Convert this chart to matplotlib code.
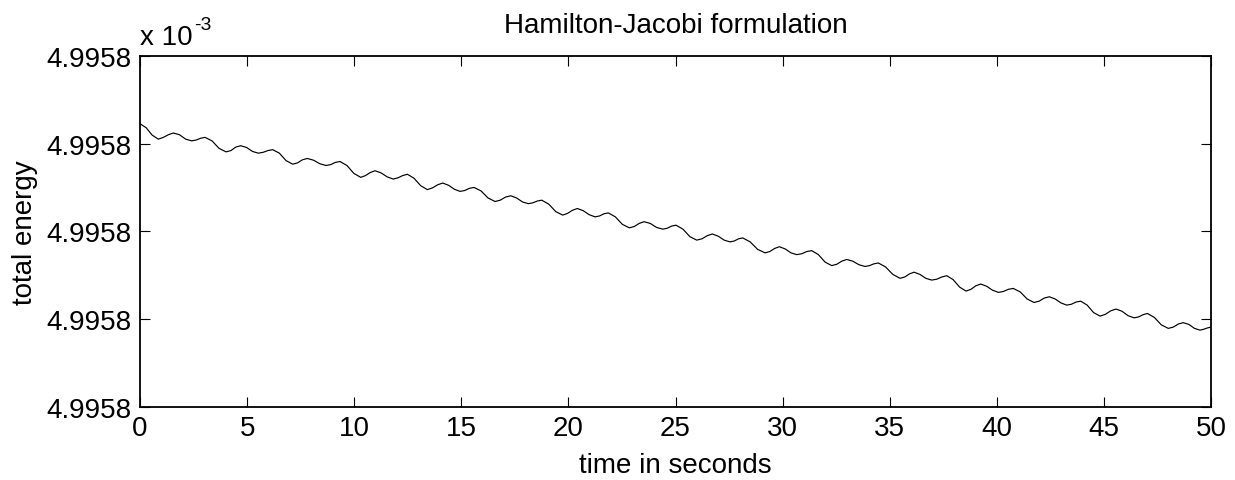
import numpy as np
import matplotlib.pyplot as plt

plt.rcParams['font.family'] = ['Liberation Sans', 'DejaVu Sans']

# time (s) and total energy (J): peaks, troughs and the shoulders between them
time_s = [0.000, 0.285, 0.569, 0.854, 1.088, 1.321, 1.555, 1.841, 2.128, 2.414,
          2.621, 2.828, 3.035, 3.362, 3.688, 4.015, 4.244, 4.472, 4.701, 4.975,
          5.249, 5.523, 5.747, 5.971, 6.195, 6.506, 6.818, 7.129, 7.356, 7.583,
          7.810, 8.101, 8.392, 8.683, 8.901, 9.119, 9.337, 9.659, 9.981, 10.303,
          10.526, 10.748, 10.971, 11.256, 11.540, 11.825, 12.043, 12.261, 12.479, 12.790,
          13.102, 13.413, 13.653, 13.892, 14.132, 14.401, 14.670, 14.939, 15.157, 15.375,
          15.593, 15.920, 16.246, 16.573, 16.817, 17.062, 17.306, 17.580, 17.854, 18.128,
          18.336, 18.545, 18.753, 19.080, 19.407, 19.734, 19.961, 20.188, 20.415, 20.691,
          20.966, 21.242, 21.449, 21.656, 21.863, 22.190, 22.516, 22.843, 23.072, 23.300,
          23.529, 23.820, 24.111, 24.402, 24.609, 24.816, 25.023, 25.345, 25.668, 25.990,
          26.233, 26.475, 26.718, 26.993, 27.269, 27.544, 27.742, 27.939, 28.137, 28.484,
          28.831, 29.178, 29.401, 29.623, 29.846, 30.117, 30.387, 30.658, 30.891, 31.125,
          31.358, 31.669, 31.981, 32.292, 32.525, 32.759, 32.992, 33.277, 33.562, 33.847,
          34.054, 34.260, 34.467, 34.805, 35.143, 35.481, 35.699, 35.916, 36.134, 36.409,
          36.685, 36.960, 37.194, 37.427, 37.661, 37.961, 38.262, 38.562, 38.791, 39.019,
          39.248, 39.522, 39.796, 40.070, 40.303, 40.537, 40.770, 41.092, 41.414, 41.736,
          41.974, 42.213, 42.451, 42.722, 42.992, 43.263, 43.481, 43.698, 43.916, 44.217,
          44.517, 44.818, 45.067, 45.316, 45.565, 45.845, 46.125, 46.405, 46.612, 46.819,
          47.026, 47.353, 47.679, 48.006, 48.239, 48.473, 48.706, 48.966, 49.226, 49.486,
          49.657, 49.829, 50.000]
energy = [4.9958245, 4.9958236, 4.9958219, 4.9958210, 4.9958214, 4.9958220, 4.9958224, 4.9958220, 4.9958210, 4.9958206,
          4.9958208, 4.9958212, 4.9958214, 4.9958206, 4.9958189, 4.9958181, 4.9958184, 4.9958192, 4.9958195, 4.9958191,
          4.9958182, 4.9958178, 4.9958180, 4.9958184, 4.9958186, 4.9958178, 4.9958161, 4.9958153, 4.9958156, 4.9958163,
          4.9958166, 4.9958162, 4.9958154, 4.9958150, 4.9958152, 4.9958157, 4.9958159, 4.9958150, 4.9958132, 4.9958123,
          4.9958127, 4.9958134, 4.9958138, 4.9958133, 4.9958124, 4.9958119, 4.9958122, 4.9958127, 4.9958130, 4.9958121,
          4.9958104, 4.9958095, 4.9958099, 4.9958106, 4.9958110, 4.9958105, 4.9958096, 4.9958091, 4.9958093, 4.9958098,
          4.9958100, 4.9958092, 4.9958076, 4.9958068, 4.9958071, 4.9958078, 4.9958081, 4.9958076, 4.9958067, 4.9958063,
          4.9958065, 4.9958069, 4.9958071, 4.9958062, 4.9958045, 4.9958037, 4.9958041, 4.9958048, 4.9958052, 4.9958047,
          4.9958038, 4.9958033, 4.9958035, 4.9958040, 4.9958042, 4.9958033, 4.9958016, 4.9958008, 4.9958011, 4.9958018,
          4.9958022, 4.9958018, 4.9958009, 4.9958005, 4.9958007, 4.9958012, 4.9958014, 4.9958005, 4.9957988, 4.9957980,
          4.9957983, 4.9957990, 4.9957994, 4.9957989, 4.9957980, 4.9957976, 4.9957978, 4.9957983, 4.9957985, 4.9957976,
          4.9957959, 4.9957951, 4.9957954, 4.9957961, 4.9957965, 4.9957960, 4.9957951, 4.9957947, 4.9957949, 4.9957954,
          4.9957956, 4.9957947, 4.9957930, 4.9957922, 4.9957925, 4.9957932, 4.9957936, 4.9957932, 4.9957924, 4.9957920,
          4.9957922, 4.9957926, 4.9957928, 4.9957919, 4.9957902, 4.9957893, 4.9957896, 4.9957903, 4.9957907, 4.9957902,
          4.9957893, 4.9957889, 4.9957891, 4.9957896, 4.9957899, 4.9957890, 4.9957873, 4.9957864, 4.9957868, 4.9957876,
          4.9957880, 4.9957875, 4.9957866, 4.9957861, 4.9957863, 4.9957868, 4.9957870, 4.9957862, 4.9957846, 4.9957838,
          4.9957841, 4.9957848, 4.9957851, 4.9957846, 4.9957837, 4.9957832, 4.9957834, 4.9957839, 4.9957841, 4.9957832,
          4.9957815, 4.9957807, 4.9957811, 4.9957819, 4.9957823, 4.9957818, 4.9957808, 4.9957803, 4.9957805, 4.9957810,
          4.9957813, 4.9957804, 4.9957787, 4.9957779, 4.9957782, 4.9957789, 4.9957792, 4.9957788, 4.9957779, 4.9957775,
          4.9957777, 4.9957780, 4.9957782]

x_ticks = [0, 5, 10, 15, 20, 25, 30, 35, 40, 45, 50]
y_ticks = [4.99576, 4.99578, 4.99580, 4.99582, 4.99584]

fig = plt.figure(figsize=(12.35, 4.81), dpi=100)
ax = fig.add_axes([0.1134, 0.1518, 0.8672, 0.7303])

ax.plot(time_s, energy, color='black', linewidth=0.85)

ax.set_xlim(0, 50)
ax.set_ylim(y_ticks[0], y_ticks[-1])
ax.set_xticks(x_ticks)
ax.set_yticks(y_ticks)
ax.set_yticklabels(['%.4f' % v for v in y_ticks])
ax.tick_params(direction='in', length=7, width=0.8, labelsize=20,
               top=True, right=True, pad=6)
for s in ax.spines.values():
    s.set_linewidth(1.3)

ax.set_title('Hamilton-Jacobi formulation', fontsize=20, y=1.0675, pad=0)
ax.set_xlabel('time in seconds', fontsize=20)
ax.xaxis.label.set_va('baseline')
ax.xaxis.set_label_coords(0.5, -0.185)
ax.set_ylabel('total energy', fontsize=20)
ax.yaxis.set_label_coords(-0.095, 0.5)

# exponent note, MATLAB style
fig.text(0.1134, 0.9064, 'x 10', fontsize=20, ha='left', va='baseline')
fig.text(0.1571, 0.9376, '-3', fontsize=14, ha='left', va='baseline')

plt.savefig('out.png', dpi=100)
